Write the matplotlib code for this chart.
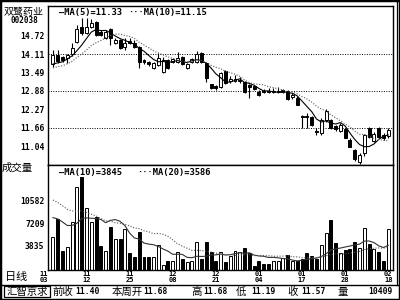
import numpy as np
import pandas as pd
import matplotlib
matplotlib.use('Agg')
import matplotlib.pyplot as plt
import matplotlib.transforms as mtransforms
from matplotlib.lines import Line2D
from matplotlib.patches import Rectangle

plt.rcParams['font.family'] = ['DejaVu Sans Mono', 'Noto Sans CJK SC']

# ---- 数据 ----
stock_name = '双鹭药业'
stock_code = '002038'

opens = [13.78, 14.08, 14.01, 13.98, 14.11, 14.51, 15.01, 14.81, 15.01, 15.17,
         14.86, 14.64, 14.94, 14.48, 14.58, 14.34, 14.56, 14.48, 14.34, 13.91,
         13.85, 13.65, 13.75, 13.52, 13.91, 13.85, 13.85, 14.01, 13.65, 13.85,
         13.85, 14.15, 13.81, 13.10, 13.05, 13.02, 13.55, 13.20, 13.22, 13.20,
         13.18, 13.08, 13.05, 12.85, 12.88, 12.88, 12.84, 12.85, 12.86, 12.88,
         12.68, 12.65, 12.05, 12.06, 12.02, 11.56, 11.49, 11.92, 11.90, 11.72,
         11.56, 11.62, 11.26, 10.93, 10.52, 10.83, 11.66, 11.22, 11.66, 11.43,
         11.38]
highs = [14.24, 14.24, 14.05, 14.12, 14.48, 15.07, 15.31, 15.31, 15.27, 15.21,
         14.90, 14.90, 14.98, 14.64, 14.61, 14.64, 14.66, 14.58, 14.38, 13.95,
         13.88, 13.85, 14.15, 14.00, 13.95, 13.98, 14.18, 14.05, 13.82, 13.98,
         14.20, 14.18, 13.85, 13.12, 13.08, 13.52, 13.58, 13.38, 13.40, 13.35,
         13.22, 13.12, 13.08, 12.90, 12.95, 12.98, 12.98, 13.02, 12.95, 12.92,
         12.80, 12.70, 12.09, 12.15, 12.05, 11.66, 11.99, 12.28, 11.95, 11.76,
         11.82, 11.66, 11.30, 10.96, 10.80, 11.45, 11.68, 11.50, 11.68, 11.48,
         11.66]
lows = [13.68, 13.81, 13.85, 13.81, 14.05, 14.48, 14.75, 14.78, 14.98, 14.70,
        14.70, 14.60, 14.41, 14.45, 14.28, 14.24, 14.44, 14.31, 13.65, 13.78,
        13.72, 13.60, 13.72, 13.48, 13.62, 13.80, 13.82, 13.75, 13.60, 13.82,
        13.80, 13.81, 13.18, 12.94, 12.92, 12.98, 13.12, 13.15, 13.18, 13.15,
        12.80, 12.65, 12.90, 12.70, 12.80, 12.82, 12.80, 12.82, 12.82, 12.59,
        12.62, 12.40, 11.66, 11.66, 11.72, 11.43, 11.43, 11.86, 11.62, 11.55,
        11.52, 11.30, 11.00, 10.55, 10.45, 10.70, 11.30, 11.19, 11.33, 11.25,
        11.30]
closes = [14.08, 13.88, 13.91, 14.08, 14.31, 14.94, 14.81, 15.01, 15.14, 14.74,
          14.76, 14.84, 14.64, 14.58, 14.31, 14.48, 14.48, 14.36, 13.85, 13.85,
          13.78, 13.81, 13.98, 13.91, 13.65, 13.95, 13.98, 13.78, 13.78, 13.95,
          14.12, 13.85, 13.32, 12.98, 12.99, 13.48, 13.15, 13.28, 13.27, 13.25,
          12.85, 13.02, 12.95, 12.75, 12.84, 12.85, 12.87, 12.88, 12.90, 12.62,
          12.75, 12.42, 12.02, 12.02, 11.76, 11.52, 11.92, 12.20, 11.66, 11.60,
          11.76, 11.33, 11.03, 10.60, 10.76, 11.40, 11.36, 11.45, 11.36, 11.33,
          11.57]
volumes = [5127, 7856, 3117, 3691, 7425, 12451, 13887, 9435, 7425, 8143,
           3835, 3117, 6563, 4840, 4840, 6276, 2830, 2255, 5845, 2255,
           2255, 2255, 3979, 1107, 1681, 1681, 2973, 1968, 1537, 1681,
           4409, 1968, 4409, 2973, 1681, 2973, 1537, 2399, 3117, 2973,
           3548, 2830, 963, 1681, 1250, 1250, 1681, 1681, 2112, 2543,
           1681, 1681, 1968, 2830, 2399, 1968, 3979, 5702, 7712, 4266,
           2830, 3261, 3404, 4409, 3548, 6420, 4122, 3404, 2973, 1681,
           6276]
# 图左侧之前的交易日, 仅用于均线
prior_closes = [13.45, 13.62, 13.40, 13.55, 13.58, 13.66, 13.74, 13.62, 13.78]
prior_volumes = [15200, 12800, 14100, 11900, 13600, 12500, 14800, 12200, 13000, 11500,
                 9800, 7600, 8900, 7200, 9400, 6800, 8600, 7900, 8670]

price_ticks = [11.04, 11.66, 12.27, 12.88, 13.49, 14.11, 14.72]
price_grid = [11.66, 12.88, 14.11]
vol_ticks = [3835, 7209, 10582]
date_pos = [-2, 7, 16, 25, 34, 43, 52, 61, 70]
date_labels = ['11\n03', '11\n12', '11\n25', '12\n08', '12\n21',
               '01\n04', '01\n17', '01\n28', '02\n18']
price_legend = ['MA(5)=11.33', 'MA(10)=11.15']
vol_legend = ['MA(10)=3845', 'MA(20)=3586']
info_items = [('前收', '11.40'), ('本周开', '11.68'), ('高', '11.68'),
              ('低', '11.19'), ('收', '11.57'), ('量', '10409')]

# ---- 均线 ----
n = len(closes)
x = np.arange(n)
c_all = pd.Series(prior_closes + closes)
ma5 = c_all.rolling(5).mean().to_numpy()[len(prior_closes):]
ma10 = c_all.rolling(10).mean().to_numpy()[len(prior_closes):]
v_all = pd.Series(prior_volumes + volumes, dtype=float)
vma10 = v_all.rolling(10).mean().to_numpy()[len(prior_volumes):]
vma20 = v_all.rolling(20).mean().to_numpy()[len(prior_volumes):]

up = np.array(closes) >= np.array(opens)
fill = np.where(up, 'white', 'black')

W, H = 400, 300
fig = plt.figure(figsize=(4, 3), dpi=100)


def fx(px):
    return px / W


def fy(py):
    return 1 - py / H


ax_p = fig.add_axes([fx(48), fy(165), fx(393) - fx(48), fy(6) - fy(165)])
ax_v = fig.add_axes([fx(48), fy(270), fx(393) - fx(48), fy(165) - fy(270)])

num_font = dict(family='DejaVu Sans Mono', fontweight='bold')
cjk = ['Noto Sans CJK SC']

# ---- K线 ----
ax_p.vlines(x, lows, highs, color='black', lw=0.8, zorder=2)
body_lo = np.minimum(opens, closes)
body_h = np.maximum(np.abs(np.array(closes) - np.array(opens)), 0.012)
ax_p.bar(x, body_h, bottom=body_lo, width=0.62, color=fill,
         edgecolor='black', lw=0.7, zorder=3)
ax_p.plot(x, ma5, color='black', lw=0.8, zorder=4)
ax_p.plot(x, ma10, color='#555555', lw=0.8, dashes=(1, 1.5), zorder=4)
for g in price_grid:
    ax_p.axhline(g, color='black', lw=0.7, dashes=(1, 1.5), zorder=1)
ax_p.set_xlim(-1.04, 70.98)
ax_p.set_ylim(10.414, 15.712)
ax_p.set_yticks(price_ticks)
ax_p.set_yticklabels(['%.2f' % t for t in price_ticks], fontsize=5.8, **num_font)
ax_p.set_xticks([])

# ---- 成交量 ----
ax_v.bar(x, volumes, width=0.62, color=fill, edgecolor='black', lw=0.7, zorder=2)
ax_v.plot(x, vma10, color='#333333', lw=0.8, zorder=3)
ax_v.plot(x, vma20, color='#555555', lw=0.8, dashes=(1, 1.5), zorder=3)
ax_v.set_xlim(-1.04, 70.98)
ax_v.set_ylim(314, 15718)
ax_v.set_yticks(vol_ticks)
ax_v.set_yticklabels([str(t) for t in vol_ticks], fontsize=5.8, **num_font)
ax_v.set_xticks([])

for ax in (ax_p, ax_v):
    ax.tick_params(length=0, pad=2.5)
    for s in ax.spines.values():
        s.set_linewidth(1.0)
        s.set_color('black')

# 日期
trans = mtransforms.blended_transform_factory(ax_v.transData, ax_v.transAxes)
for p, lab in zip(date_pos, date_labels):
    ax_v.text(p, -0.01, lab, transform=trans, ha='center', va='top',
              fontsize=5.0, linespacing=0.95, clip_on=False, **num_font)

# 图例
fig.text(fx(59), fy(13), '—' + price_legend[0], fontsize=6.3, va='center', **num_font)
fig.text(fx(128), fy(13), '···' + price_legend[1], fontsize=6.3, va='center', **num_font)
fig.text(fx(59), fy(172), '—' + vol_legend[0], fontsize=6.3, va='center', **num_font)
fig.text(fx(137), fy(172), '···' + vol_legend[1], fontsize=6.3, va='center', **num_font)

# 左侧文字
fig.text(fx(24), fy(14.5), stock_name, family=cjk, fontsize=7.2, ha='center', va='baseline')
fig.text(fx(24), fy(23), stock_code, fontsize=5.5, ha='center', va='baseline', **num_font)
fig.text(fx(2), fy(168), '成交量', family=cjk, fontsize=7.5, va='center')
fig.text(fx(5), fy(277), '日线', family=cjk, fontsize=8, va='center')

# 底部信息栏
fig.add_artist(Line2D([0, 1], [fy(284.5), fy(284.5)], color='black', lw=1.0))
fig.add_artist(Rectangle((fx(4), fy(297)), fx(50) - fx(4), fy(286) - fy(297),
                         fill=False, ec='black', lw=0.9))
fig.text(fx(27), fy(291.5), '汇智京求', family=cjk, fontsize=7.5, ha='center', va='center')
lab_x = [52, 112, 191, 236, 287, 337]
val_x = [100, 168, 228, 276, 326, 393]
for (lab, val), lx, vx in zip(info_items, lab_x, val_x):
    fig.text(fx(lx), fy(291.5), lab, family=cjk, fontsize=7.5, va='center')
    fig.text(fx(vx), fy(291.5), val, fontsize=5.8, ha='right', va='center', **num_font)

# 外框
fig.add_artist(Line2D([fx(396.5), fx(396.5)], [fy(0), fy(284.5)], color='black', lw=0.9))
fig.add_artist(Rectangle((0, 0), 1, 1, fill=False, ec='black', lw=2.5,
                         transform=fig.transFigure))

fig.savefig('out.png', dpi=100)
